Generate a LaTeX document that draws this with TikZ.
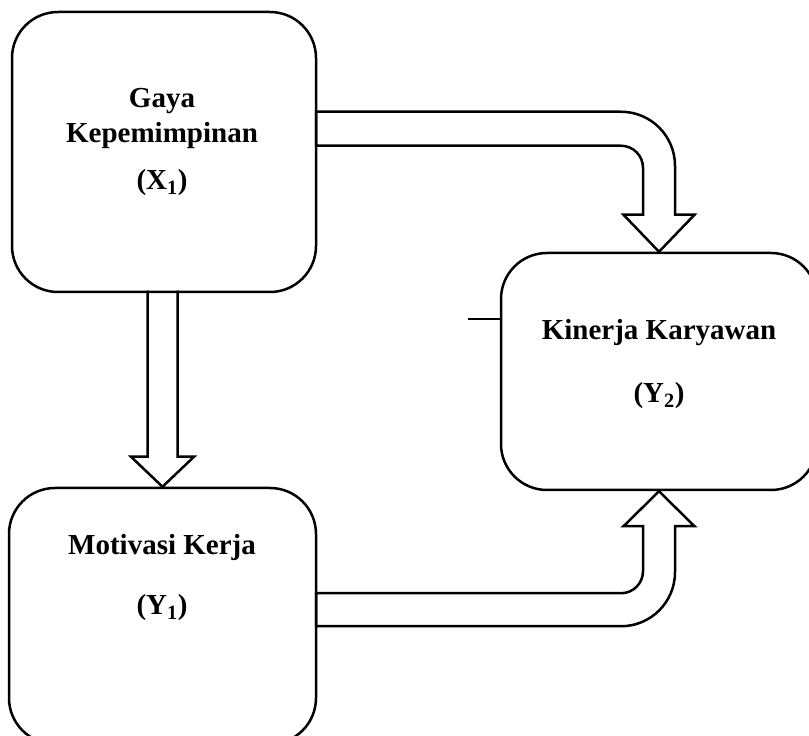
\documentclass[tikz,border=0pt]{standalone}
\usepackage{fontspec}
\setmainfont{Liberation Serif}

\begin{document}
\begin{tikzpicture}[x=1pt,y=1pt,
  box/.style={draw,line width=2.5pt,rounded corners=46pt,inner sep=0pt},
  lbl/.style={anchor=base,font=\fontsize{29}{35}\selectfont\bfseries},
  blk/.style={draw,line width=2.5pt,line join=miter},
  stubline/.style={draw,line width=1.1pt}]
\clip (0,0) rectangle (809,736);
\node[box,minimum width=304pt,minimum height=280pt] (x1) at (164,584) {};
\node[box,minimum width=307pt,minimum height=256pt] (y1) at (162.5,120) {};
\node[box,minimum width=316pt,minimum height=237pt] (y2) at (659,364.5) {};
\node[lbl] (x1a) at (162,628) {Gaya};
\node[lbl] (x1b) at (162,593) {Kepemimpinan};
\node[lbl] (x1c) at (162,546) {(X\textsubscript{1})};
\node[lbl] (y2a) at (659,396) {Kinerja Karyawan};
\node[lbl] (y2b) at (659,333) {(Y\textsubscript{2})};
\node[lbl] (y1a) at (162,181) {Motivasi Kerja};
\node[lbl] (y1b) at (162,121) {(Y\textsubscript{1})};
\draw[blk,shift={(y1.north)}] (-15,196) -- (-15,30) -- (-31.5,30) -- (0,0) -- (31.5,30) -- (15,30) -- (15,196);
\draw[blk,shift={(y2.north)}] (-343,106) -- (-38,106) arc[start angle=90,end angle=0,radius=22] -- (-16,37) -- (-35.5,37) -- (0,0) -- (35.5,37) -- (16,37) -- (16,86) arc[start angle=0,end angle=90,radius=54] -- (-343,140) -- cycle;
\draw[blk,shift={(y2.south)}] (-343,-102) -- (-38,-102) arc[start angle=-90,end angle=0,radius=22] -- (-16,-35) -- (-35.5,-35) -- (0,0) -- (35.5,-35) -- (16,-35) -- (16,-81) arc[start angle=0,end angle=-90,radius=54] -- (-343,-135) -- cycle;
\coordinate (stub) at (468,417);
\draw[stubline] (stub) -- (stub -| y2.west);
\end{tikzpicture}
\end{document}
